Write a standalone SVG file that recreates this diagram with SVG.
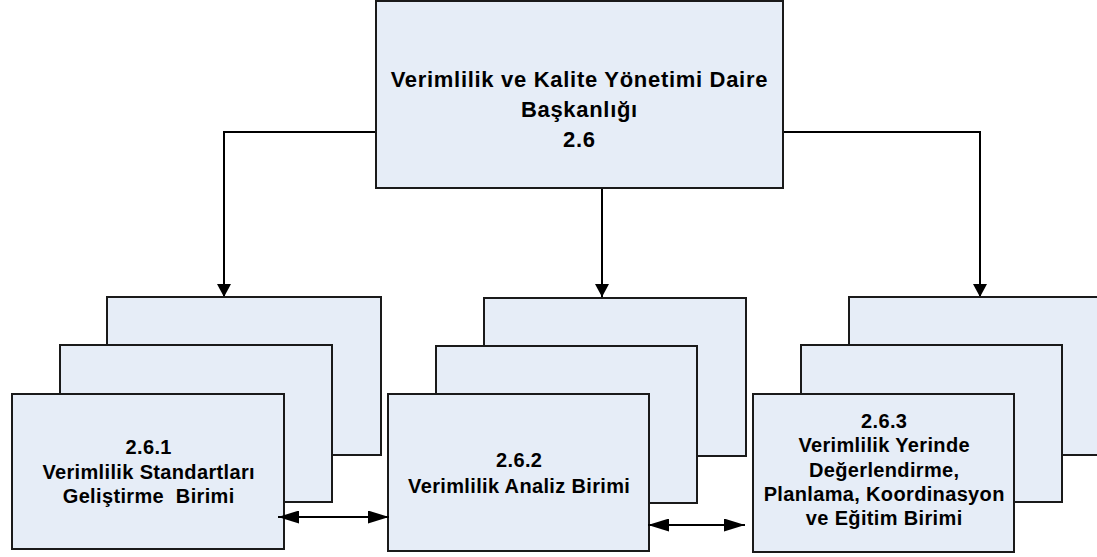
<svg xmlns="http://www.w3.org/2000/svg" width="1097" height="557" viewBox="0 0 1097 557">
<style>
.box{fill:#E6EDF7;stroke:#1a1a1a;stroke-width:2}
.t{font-family:"Liberation Sans",Arial,sans-serif;font-weight:bold;fill:#000;text-anchor:middle}
.tt{font-size:22px;letter-spacing:0.7px}
.st{font-size:20px;letter-spacing:0.35px}
.ln{fill:none;stroke:#000;stroke-width:2}
</style>
<defs>
<marker id="ad" markerUnits="userSpaceOnUse" markerWidth="14" markerHeight="14" refX="13" refY="7" orient="auto">
<path d="M0,0 L13,7 L0,14 z" fill="#000"/>
</marker>
<marker id="ah" markerUnits="userSpaceOnUse" markerWidth="22" markerHeight="13" refX="21" refY="6.5" orient="auto-start-reverse">
<path d="M0,0 L21,6.5 L0,13 z" fill="#000"/>
</marker>
</defs>
<rect width="1097" height="557" fill="#fff"/>
<g id="connectors">
<path class="ln" d="M376,132 H224 V297" marker-end="url(#ad)"/>
<path class="ln" d="M602,188 V297" marker-end="url(#ad)"/>
<path class="ln" d="M783,132 H980 V297" marker-end="url(#ad)"/>
</g>
<g id="top">
<rect class="box" x="376" y="1" width="407" height="187"/>
<text class="t tt" x="579.4" y="87">Verimlilik ve Kalite Yönetimi Daire</text>
<text class="t tt" x="579.4" y="117">Başkanlığı</text>
<text class="t tt" x="579.4" y="147">2.6</text>
</g>
<g id="unit1">
<rect class="box" x="107" y="297" width="274" height="158"/>
<rect class="box" x="60" y="345" width="272" height="157"/>
<rect class="box" x="12" y="394" width="272" height="155"/>
<text class="t st" x="148.7" y="454">2.6.1</text>
<text class="t st" x="148.7" y="479">Verimlilik Standartları</text>
<text class="t st" x="148.7" y="503" xml:space="preserve">Geliştirme  Birimi</text>
</g>
<g id="unit2">
<rect class="box" x="484" y="298" width="262" height="158"/>
<rect class="box" x="436" y="346" width="261" height="157"/>
<rect class="box" x="388" y="394" width="261" height="157"/>
<text class="t st" x="519.2" y="467">2.6.2</text>
<text class="t st" x="519.2" y="493">Verimlilik Analiz Birimi</text>
</g>
<g id="unit3">
<rect class="box" x="849" y="297" width="260" height="158"/>
<rect class="box" x="801" y="345" width="261" height="157"/>
<rect class="box" x="753" y="394" width="261" height="158"/>
<text class="t st" x="884.2" y="428">2.6.3</text>
<text class="t st" x="884.2" y="452">Verimlilik Yerinde</text>
<text class="t st" x="884.2" y="477">Değerlendirme,</text>
<text class="t st" x="884.2" y="501">Planlama, Koordinasyon</text>
<text class="t st" x="884.2" y="525">ve Eğitim Birimi</text>
</g>
<g id="links">
<path class="ln" d="M278,517 H389" marker-start="url(#ah)" marker-end="url(#ah)"/>
<path class="ln" d="M648,525 H745" marker-start="url(#ah)" marker-end="url(#ah)"/>
</g>
</svg>
